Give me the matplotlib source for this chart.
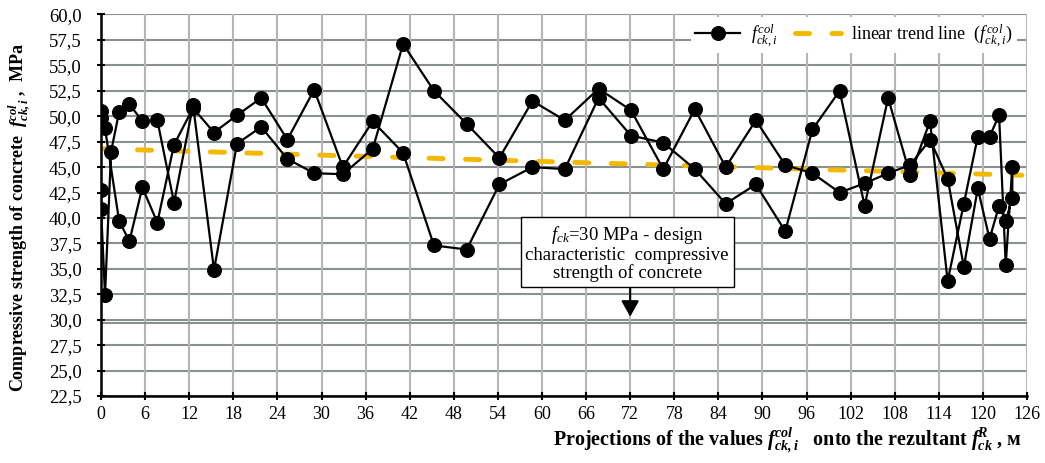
import numpy as np
import matplotlib
matplotlib.use('Agg')
import matplotlib.pyplot as plt
from matplotlib.lines import Line2D

# ---------------- data ----------------
x_start = [0.0, 0.0, 0.54, 1.36]
f_start = [42.7, 40.9, 32.4, 46.5]

x_common = [2.45, 3.85, 5.62, 7.66, 9.93, 12.52, 15.37, 18.5, 21.8, 25.35,
            29.0, 32.9, 36.97, 41.1, 45.3, 49.75, 54.2, 58.7, 63.1, 67.7,
            72.1, 76.5, 80.8, 85.0, 89.1, 93.1, 96.8, 100.5, 103.9, 107.1,
            110.1, 112.8, 115.2, 117.4, 119.3, 120.9, 122.2, 123.1, 124.0]

f_path_out = [50.4, 51.2, 49.5, 49.6, 41.5, 51.1, 34.9, 47.3, 48.95, 45.8,
              44.4, 44.3, 46.8, 57.1, 52.5, 49.25, 45.9, 51.5, 49.6, 52.7,
              50.6, 44.8, 50.7, 45.0, 49.6, 45.2, 44.4, 42.5, 43.4, 44.4,
              45.2, 47.7, 43.85, 35.2, 42.9, 37.95, 41.2, 39.7, 42.0]

f_path_back = [39.75, 37.7, 43.0, 39.55, 47.2, 50.8, 48.4, 50.1, 51.8, 47.7,
               52.6, 45.0, 49.5, 46.4, 37.3, 36.9, 43.3, 45.0, 44.8, 51.8,
               48.1, 47.4, 44.8, 41.4, 43.3, 38.7, 48.7, 52.5, 41.2, 51.8,
               44.2, 49.5, 33.8, 41.4, 48.0, 48.0, 50.1, 35.4, 45.0]

x_end = [0.54, 0.0, 0.0]
f_end = [48.8, 49.8, 50.5]

trend_x = [0.0, 125.3]
trend_f = [46.8, 44.2]

design_fck = 30.0

x_ticks = [0, 6, 12, 18, 24, 30, 36, 42, 48, 54, 60, 66, 72, 78, 84, 90,
           96, 102, 108, 114, 120, 126]
y_ticks = [22.5, 25.0, 27.5, 30.0, 32.5, 35.0, 37.5, 40.0, 42.5, 45.0,
           47.5, 50.0, 52.5, 55.0, 57.5, 60.0]
y_tick_labels = ['22,5', '25,0', '27,5', '30,0', '32,5', '35,0', '37,5',
                 '40,0', '42,5', '45,0', '47,5', '50,0', '52,5', '55,0',
                 '57,5', '60,0']

# ---------------- style ----------------
plt.rcParams['font.family'] = ['Liberation Serif', 'DejaVu Serif']
plt.rcParams['mathtext.fontset'] = 'custom'
plt.rcParams['mathtext.rm'] = 'Liberation Serif'
plt.rcParams['mathtext.it'] = 'Liberation Serif:italic'
plt.rcParams['mathtext.bf'] = 'Liberation Serif:bold'
plt.rcParams['mathtext.bfit'] = 'Liberation Serif:italic:bold'

TREND_COLOR = '#F5B800'

fig = plt.figure(figsize=(10.45, 4.63), dpi=100)
ax = fig.add_axes([0.0967, 0.1447, 0.8861, 0.824])

x_path = x_start + x_common + x_common[::-1] + x_end
f_path = f_start + f_path_out + f_path_back[::-1] + f_end

ax.set_xlim(0, 126)
ax.set_ylim(22.5, 60)

# grid
for yv in y_ticks:
    ax.axhline(yv, color='#8a8f8f', lw=1.5, zorder=1)
for xv in x_ticks:
    ax.axvline(xv, color='#b5b5b5', lw=1.5, zorder=1)
ax.axhline(design_fck - 0.28, color='#8a8f8f', lw=1.5, zorder=1)

ax.plot(trend_x, trend_f, color=TREND_COLOR, lw=3.5, dashes=(2.9, 4.6),
        dash_capstyle='round', zorder=3)
ax.plot(x_path, f_path, color='black', lw=1.6, marker='o', ms=9.8,
        mfc='black', mec='black', zorder=4)

ax.set_xticks(x_ticks)
ax.set_yticks(y_ticks)
ax.set_yticklabels(y_tick_labels)
ax.tick_params(axis='both', direction='inout', length=6, width=1.5,
               color='black')
ax.tick_params(axis='y', pad=11, labelsize=13.5)
ax.tick_params(axis='x', pad=4, labelsize=13)

for s in ['top', 'right']:
    ax.spines[s].set_visible(False)
for s in ['left', 'bottom']:
    ax.spines[s].set_linewidth(1.8)
    ax.spines[s].set_color('black')
    ax.spines[s].set_zorder(5)

# annotation box and arrow
ax.text(71.6, 36.55,
        '$f_{ck}$=30 MPa - design\ncharacteristic  compressive\nstrength of concrete',
        ha='center', va='center', fontsize=13.5, linespacing=1.05, zorder=6,
        bbox=dict(boxstyle='square,pad=0.25', fc='white', ec='black', lw=1.0))
ax.annotate('', xy=(72, 30.3), xytext=(72, 33.05),
            arrowprops=dict(arrowstyle='-|>,head_length=0.8,head_width=0.45',
                            color='black', lw=1.5, mutation_scale=12,
                            shrinkA=0, shrinkB=0), zorder=6)

# legend
handles = [Line2D([], [], color='black', lw=1.6, marker='o', ms=9.8),
           Line2D([], [], color=TREND_COLOR, lw=3.5, dashes=(2.9, 4.6),
                  dash_capstyle='round')]
labels = [r'$f_{ck,i}^{col}$', r'linear trend line  ($f_{ck,i}^{col}$)']
leg = ax.legend(handles, labels, loc='center', bbox_to_anchor=(0.813, 0.946),
                ncol=2, fontsize=13, handlelength=2.5, handletextpad=0.6,
                columnspacing=1.0, frameon=True, fancybox=False,
                facecolor='white', edgecolor='none', framealpha=1,
                borderpad=0.25)
leg.set_zorder(7)

# axis titles
fig.text(0.019, 0.53,
         r'Compressive strength of concrete  $\mathbfit{f}_{\mathbfit{ck,i}}^{\mathbfit{col}}$ ,  MPa',
         rotation=90, ha='center', va='center', fontsize=13, fontweight='bold')
fig.text(0.978, 0.05,
         r'Projections of the values $\mathbfit{f}_{\mathbfit{ck,i}}^{\mathbfit{col}}$   onto the rezultant $\mathbfit{f}_{\mathbfit{ck}}^{\mathbfit{R}}$ , м',
         ha='right', va='center', fontsize=14.5, fontweight='bold')

fig.savefig('out.png', dpi=100)
